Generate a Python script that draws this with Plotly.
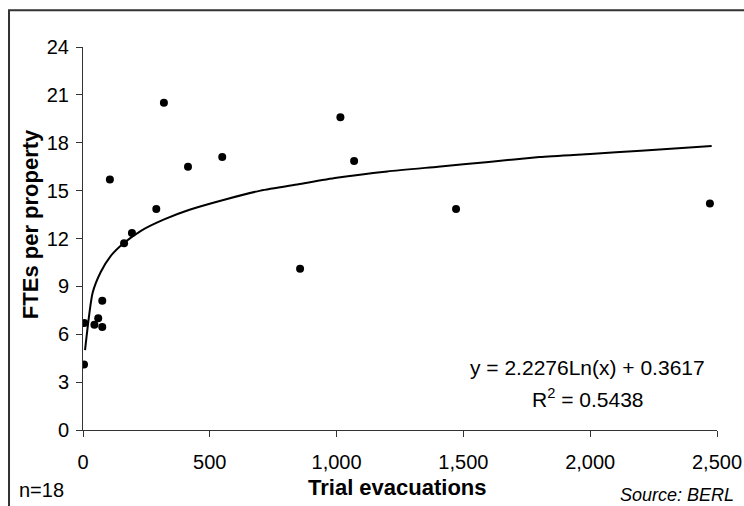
import plotly.graph_objects as go

trial_evacuations = [4, 5, 45, 60, 76, 76, 106, 162, 193, 289, 319, 414, 549, 856, 1015, 1069, 1471, 2472]
ftes_per_property = [4.1, 6.7, 6.6, 7.0, 6.45, 8.1, 15.7, 11.7, 12.35, 13.85, 20.5, 16.5, 17.1, 10.1, 19.6, 16.85, 13.85, 14.2]

# Logarithmic trendline as drawn on the chart
trend_x = [8, 38, 70, 109, 160, 230, 320, 420, 550, 700, 850, 1000, 1200, 1400, 1600, 1800, 2000, 2200, 2479]
trend_y = [5.0, 8.6, 9.9, 10.9, 11.7, 12.5, 13.2, 13.8, 14.4, 15.0, 15.4, 15.8, 16.2, 16.5, 16.8, 17.1, 17.3, 17.5, 17.8]

x_tick_vals = [0, 500, 1000, 1500, 2000, 2500]
x_tick_text = ["0", "500", "1,000", "1,500", "2,000", "2,500"]
y_tick_vals = [0, 3, 6, 9, 12, 15, 18, 21, 24]

equation_text = "y = 2.2276Ln(x) + 0.3617"
r2_text = "R<sup>2</sup> = 0.5438"

FONT = "Liberation Sans, Arial, sans-serif"

fig = go.Figure()
fig.add_trace(go.Scatter(x=trend_x, y=trend_y, mode="lines",
                         line=dict(color="black", width=2, shape="spline", smoothing=0.6),
                         showlegend=False))
fig.add_trace(go.Scatter(x=trial_evacuations, y=ftes_per_property, mode="markers",
                         marker=dict(color="black", size=8), showlegend=False))

axis_common = dict(showgrid=False, zeroline=False, showline=True, linecolor="#333333",
                   linewidth=1, ticks="outside", ticklen=6, tickcolor="#333333",
                   automargin=False,
                   tickfont=dict(family=FONT, size=20, color="black"))

fig.update_xaxes(range=[0, 2500], tickvals=x_tick_vals, ticktext=x_tick_text,
                 ticklabelstandoff=8, **axis_common)
fig.update_yaxes(range=[0, 24], tickvals=y_tick_vals, ticklabelstandoff=3, **axis_common)

annots = [
    dict(text=equation_text, x=0.7965, y=0.1644, xanchor="center", yanchor="middle", size=21),
    dict(text=r2_text, x=0.797, y=0.0835, xanchor="center", yanchor="middle", size=21),
    dict(text="<b>Trial evacuations</b>", x=0.4953, y=-0.1513, xanchor="center",
         yanchor="middle", size=22),
    dict(text="<b>FTEs per property</b>", x=-0.0836, y=0.5374, xanchor="center",
         yanchor="middle", textangle=-90, size=22),
    dict(text="n=18", x=-0.104, y=-0.1565, xanchor="left", yanchor="middle", size=20),
    dict(text="<i>Source: BERL</i>", x=0.937, y=-0.169, xanchor="center",
         yanchor="middle", size=18),
]
for a in annots:
    size = a.pop("size")
    a["xref"] = "paper"
    a["yref"] = "paper"
    a["showarrow"] = False
    a["font"] = dict(family=FONT, color="black", size=size)
    fig.add_annotation(**a)

fig.add_shape(type="rect", xref="paper", yref="paper", x0=-0.1167, x1=1.2, y0=-0.3, y1=1.0957,
              line=dict(color="#333333", width=2), fillcolor="rgba(0,0,0,0)", layer="below")

fig.update_layout(
    width=744, height=506,
    margin=dict(l=83, r=27, t=47, b=76),
    paper_bgcolor="white", plot_bgcolor="white",
    font=dict(family=FONT, color="black"),
)

# Remove the default page margin so the 744x506 figure fills the window without scrollbars.
fig.write_html(
    "out.html",
    config={"displayModeBar": False},
    post_script="document.body.style.margin='0';document.body.style.overflow='hidden';",
)
